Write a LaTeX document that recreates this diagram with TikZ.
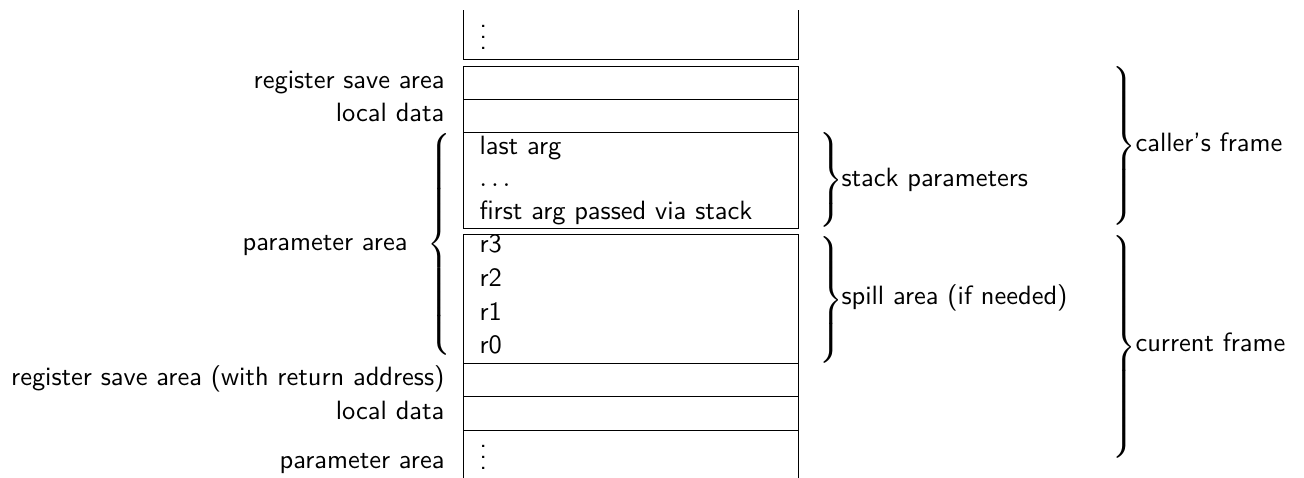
\documentclass[tikz,border=0pt]{standalone}
\usepackage{amsmath}
\newcommand{\rbr}[1]{$\delimiterfactor=1000\delimitershortfall=0pt\nulldelimiterspace=0pt\left.\vcenter{\hrule height #1 width 0pt}\right\}$}
\newcommand{\lbr}[1]{$\delimiterfactor=1000\delimitershortfall=0pt\nulldelimiterspace=0pt\left\{\vcenter{\hrule height #1 width 0pt}\right.$}
\tikzset{
  cell/.style={draw, rectangle, inner sep=0pt, minimum width=335*0.378pt, anchor=north west},
  txt/.style={inner sep=0pt, text height=7pt, text depth=2pt, font=\sffamily},
  lbl/.style={txt, anchor=east},
  inl/.style={txt, anchor=west},
  brc/.style={inner sep=0pt, anchor=west},
  dts/.style={inner sep=0pt, anchor=base west, font=\sffamily}
}
\begin{document}
\begin{tikzpicture}[x=0.378pt, y=-0.378pt, line width=0.4pt]
\useasboundingbox (0,0) rectangle (1304,477);
% open top block (top edge clipped away)
\begin{scope}
\clip (400,10) rectangle (860,70);
\node[cell, minimum height=69*0.378pt] (top) at (463,-10) {};
\end{scope}
\node[dts] (tdots) at (479,49) {$\vdots$};
% caller frame cells
\node[cell, minimum height=33*0.378pt] (rsa1) at (463,66) {};
\node[cell, minimum height=33*0.378pt] (ld1) at (463,99) {};
\node[cell, minimum height=96*0.378pt] (stk) at (463,132) {};
\node[inl] (la) at (479,148) {last arg};
\node[inl] (dd) at (479,180) {$\dots$};
\node[inl] (fa) at (479,213) {first arg passed via stack};
% current frame
\node[cell, minimum height=129*0.378pt] (spill) at (463,234) {};
\node[inl] (r3) at (479,246) {r3};
\node[inl] (r2) at (479,280) {r2};
\node[inl] (r1) at (479,314) {r1};
\node[inl] (r0) at (479,347) {r0};
\node[cell, minimum height=33*0.378pt] (rsa2) at (463,363) {};
\node[cell, minimum height=34*0.378pt] (ld2) at (463,396) {};
% open bottom block (bottom edge outside the page)
\begin{scope}
\clip (400,420) rectangle (860,477);
\node[cell, minimum height=70*0.378pt] (bot) at (463,430) {};
\end{scope}
\node[dts] (bdots) at (479,469) {$\vdots$};
% left labels
\node[lbl] (l1) at (445,82) {register save area};
\node[lbl] (l2) at (445,115) {local data};
\node[lbl] (l3) at (408,244) {parameter area};
\node[lbl] (l4) at (445,379) {register save area (with return address)};
\node[lbl] (l5) at (445,413) {local data};
\node[lbl] (l6) at (445,462) {parameter area};
% braces
\node[brc] (bpar) at (427,244.5) {\lbr{83pt}};
\node[brc] (bstk) at (819,180) {\rbr{35pt}};
\node[brc] (bspl) at (819,300) {\rbr{47pt}};
\node[brc] (bcal) at (1112,146) {\rbr{60pt}};
\node[brc] (bcur) at (1112,347) {\rbr{83pt}};
% right labels
\node[inl] (t1) at (841,180) {stack parameters};
\node[inl] (t2) at (841,298) {spill area (if needed)};
\node[inl] (t3) at (1135,145) {caller's frame};
\node[inl] (t4) at (1135,345) {current frame};
\end{tikzpicture}
\end{document}
